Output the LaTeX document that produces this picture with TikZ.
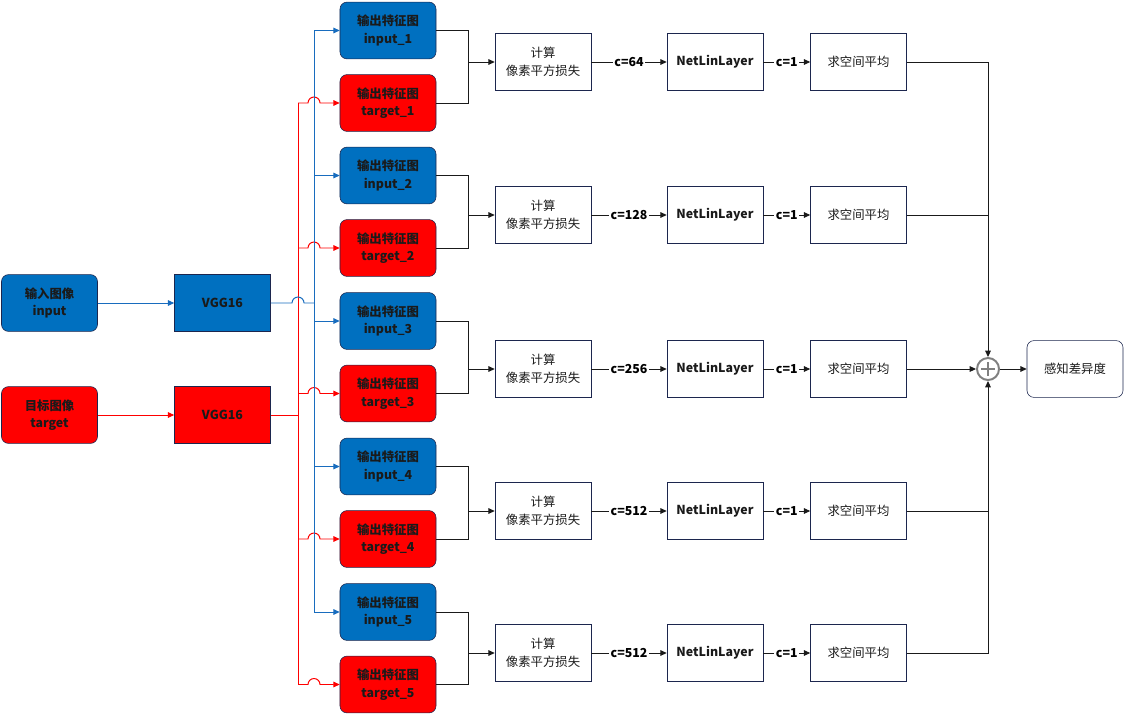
\documentclass[tikz,border=0pt]{standalone}
\usepackage{fontspec}
\setmainfont{Noto Sans CJK SC}
\usetikzlibrary{positioning,arrows.meta}
\definecolor{fmblue}{RGB}{0,112,192}
\definecolor{fmred}{RGB}{255,0,0}
\definecolor{edgeblue}{RGB}{28,38,78}
\definecolor{wireblue}{RGB}{24,108,190}
\definecolor{wire}{RGB}{26,26,26}
\definecolor{sumgray}{RGB}{128,128,128}

\begin{document}
\begin{tikzpicture}[
  x=0.025cm,y=-0.025cm,
  font=\fontsize{8.8}{12.5}\selectfont,
  >={Triangle[length=4.5pt,width=4pt]},
  box/.style={draw=edgeblue,minimum width=2.4cm,minimum height=1.42cm,align=center,inner sep=1pt,text=wire},
  bluebox/.style={box,fill=fmblue,font=\fontsize{8.8}{12.5}\selectfont\bfseries},
  redbox/.style={box,fill=fmred,font=\fontsize{8.8}{12.5}\selectfont\bfseries},
  plain/.style={box,fill=white},
  lbl/.style={fill=white,inner sep=1pt,font=\fontsize{8.8}{10}\selectfont\bfseries},
  blueline/.style={draw=wireblue,line width=0.7pt},
  redline/.style={draw=fmred,line width=0.7pt},
  flow/.style={draw=wire,line width=0.7pt}
]
\useasboundingbox (0,0) rectangle (1124,716);

% inputs and backbones
\node[bluebox,rounded corners=5pt] (img) at (49.5,303) {输入图像\\input};
\node[redbox,rounded corners=5pt] (tgt) at (49.5,415) {目标图像\\target};
\node[bluebox] (vggi) at (222.5,303) {VGG16};
\node[redbox] (vggt) at (222.5,415) {VGG16};
\draw[blueline,->] (img) -- (vggi);
\draw[redline,->] (tgt) -- (vggt);

% bus lines
\coordinate (rbus) at (298,0);
\coordinate (bbus) at (314,0);
\coordinate (mrg) at (468,0);
\coordinate (sumx) at (988,0);

% sum and result
\node[draw=sumgray,line width=1.4pt,circle,minimum size=0.55cm,inner sep=0pt] (sum) at (988,369) {};
\draw[sumgray,line width=1.2pt] ([xshift=-0.17cm]sum.center) -- ([xshift=0.17cm]sum.center)
  ([yshift=-0.17cm]sum.center) -- ([yshift=0.17cm]sum.center);
\node[plain,rounded corners=5pt] (out) at (1075,369) {感知差异度};
\draw[flow,->] (sum) -- (out);

% five feature levels
\foreach \i/\yi/\yc/\c in {1/30.5/62/64,2/175.5/215/128,3/321/369/256,4/466.5/511/512,5/612/653/512}{
  \node[bluebox,rounded corners=5pt] (in\i) at (388,\yi) {输出特征图\\input\_\i};
  \node[redbox,rounded corners=5pt] (tg\i) at (388,\yi+72.5) {输出特征图\\target\_\i};
  \node[plain] (cp\i) at (543,\yc) {计算\\像素平方损失};
  \node[plain,font=\fontsize{8.8}{12.5}\selectfont\bfseries] (nl\i) at (715,\yc) {NetLinLayer};
  \node[plain] (av\i) at (858.5,\yc) {求空间平均};
  \draw[blueline,->] (in\i.west -| bbus) -- (in\i.west);
  \draw[redline,->] (tg\i.west -| rbus) -- ([xshift=-0.15cm]tg\i.west -| bbus)
    arc[start angle=180,end angle=0,radius=0.15cm] -- (tg\i.west);
  \draw[flow] (in\i.east) -- (in\i.east -| mrg) |- (tg\i.east);
  \draw[flow,->] (cp\i.west -| mrg) -- (cp\i.west);
  \draw[flow,->] (cp\i) -- node[lbl]{c=\c} (nl\i);
  \draw[flow,->] (nl\i) -- node[lbl]{c=1} (av\i);
}

% buses from the backbones
\draw[redline] (tg1.west -| rbus) -- (tg5.west -| rbus);
\draw[redline] (vggt.east) -- (vggt.east -| rbus);
\draw[blueline] (in1.west -| bbus) -- (in5.west -| bbus);
\draw[blueline] (vggi.east) -- ([xshift=-0.15cm]vggi.east -| rbus)
  arc[start angle=180,end angle=0,radius=0.15cm] -- (vggi.east -| bbus);

% gather into the sum
\draw[flow,->] (av1.east) -| (sum.north);
\draw[flow] (av2.east) -- (av2.east -| sumx);
\draw[flow,->] (av3) -- (sum);
\draw[flow] (av4.east) -- (av4.east -| sumx);
\draw[flow,->] (av5.east) -| (sum.south);
\end{tikzpicture}
\end{document}
